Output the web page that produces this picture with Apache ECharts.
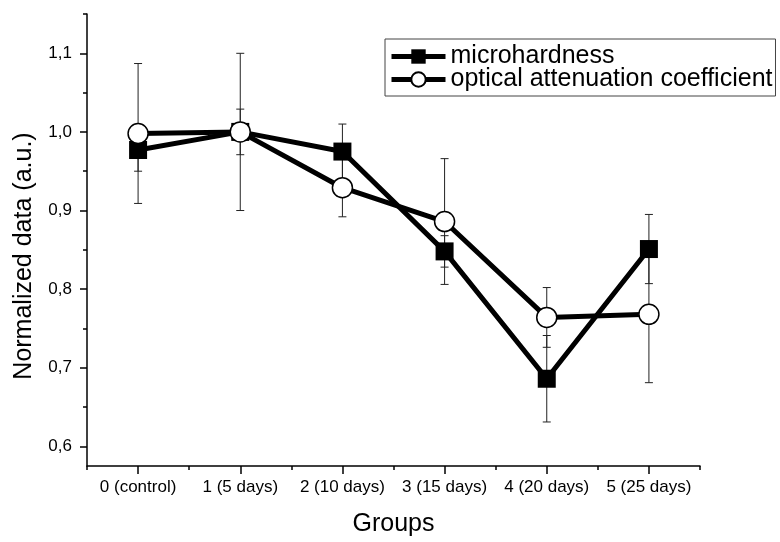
<!DOCTYPE html>
<html>
<head>
<meta charset="utf-8">
<script src="https://cdn.jsdelivr.net/npm/echarts@6/dist/echarts.min.js"></script>
<style>
html,body{margin:0;padding:0;background:#fff;}
#chart{width:780px;height:542px;}
</style>
</head>
<body>
<div id="chart"></div>
<script>
const categories = ['0 (control)', '1 (5 days)', '2 (10 days)', '3 (15 days)', '4 (20 days)', '5 (25 days)'];
const microhardness = [0.977, 1.000, 0.975, 0.848, 0.686, 0.851];
const microhardnessErr = [0.027, 0.029, 0.035, 0.020, 0.055, 0.044];
const attenuation = [0.998, 1.000, 0.929, 0.886, 0.764, 0.768];
const attenuationErr = [0.089, 0.100, 0.037, 0.080, 0.038, 0.087];
const yTicks = [0.6, 0.7, 0.8, 0.9, 1.0, 1.1];
const yMinorTicks = [0.65, 0.75, 0.85, 0.95, 1.05, 1.15];
const yMin = 0.575;
const yMax = 1.15;

const FONT = '"Liberation Sans", Arial, Helvetica, sans-serif';
const chart = echarts.init(document.getElementById('chart'), null, {renderer: 'canvas'});

function errData(means, errs) {
  return means.map((m, i) => [i, m, errs[i]]);
}
function errRender(params, api) {
  const x = api.value(0), m = api.value(1), e = api.value(2);
  const top = api.coord([x, m + e]);
  const bot = api.coord([x, m - e]);
  const hw = 4;
  const st = {stroke: '#222', lineWidth: 1};
  return {
    type: 'group',
    children: [
      {type: 'line', shape: {x1: top[0], y1: top[1], x2: bot[0], y2: bot[1]}, style: st},
      {type: 'line', shape: {x1: top[0] - hw, y1: top[1], x2: top[0] + hw, y2: top[1]}, style: st},
      {type: 'line', shape: {x1: bot[0] - hw, y1: bot[1], x2: bot[0] + hw, y2: bot[1]}, style: st}
    ]
  };
}

const option = {
  animation: false,
  backgroundColor: '#fff',
  textStyle: {fontFamily: FONT, color: '#000'},
  grid: {left: 87, right: 80, top: 14, bottom: 75},
  legend: {
    orient: 'vertical',
    left: 385,
    top: 39,
    padding: [5, 3, 4, 4],
    borderColor: '#444',
    borderWidth: 1,
    itemWidth: 54,
    itemHeight: 18,
    itemGap: -2,
    lineStyle: {width: 5, color: '#000'},
    textStyle: {fontSize: 25, lineHeight: 22, color: '#000', fontFamily: FONT},
    data: ['microhardness', 'optical attenuation coefficient']
  },
  graphic: [{
    type: 'text',
    x: 24,
    y: 256,
    rotation: Math.PI / 2,
    style: {
      text: 'Normalized data (a.u.)',
      font: '25px ' + FONT,
      fill: '#000',
      textAlign: 'center',
      textVerticalAlign: 'middle'
    }
  }],
  xAxis: [{
    type: 'category',
    data: categories,
    boundaryGap: true,
    position: 'bottom',
    axisLine: {show: true, lineStyle: {color: '#000', width: 1.5}},
    axisTick: {show: true, alignWithLabel: true, length: 8, lineStyle: {color: '#000', width: 1.5}},
    axisLabel: {fontSize: 17, color: '#000', margin: 13, interval: 0, fontFamily: FONT},
    splitLine: {show: false},
    name: 'Groups',
    nameLocation: 'middle',
    nameGap: 46,
    nameTextStyle: {fontSize: 25, color: '#000', fontFamily: FONT}
  }, {
    type: 'category',
    data: categories,
    boundaryGap: true,
    position: 'bottom',
    axisLine: {show: false},
    axisTick: {show: true, alignWithLabel: false, length: 4, lineStyle: {color: '#000', width: 1.5}},
    axisLabel: {show: false},
    splitLine: {show: false}
  }],
  yAxis: [{
    type: 'value',
    min: yMin,
    max: yMax,
    position: 'left',
    axisLine: {show: true, lineStyle: {color: '#000', width: 1.5}},
    axisTick: {show: true, length: 7, customValues: yTicks, lineStyle: {color: '#000', width: 1.5}},
    axisLabel: {
      customValues: yTicks,
      fontSize: 17, color: '#000', margin: 15, fontFamily: FONT,
      formatter: v => v.toFixed(1).replace('.', ',')
    },
    splitLine: {show: false}
  }, {
    type: 'value',
    min: yMin,
    max: yMax,
    position: 'left',
    axisLine: {show: false},
    axisTick: {show: true, length: 4, customValues: yMinorTicks, lineStyle: {color: '#000', width: 1.5}},
    axisLabel: {show: false},
    splitLine: {show: false}
  }],
  series: [
    {
      type: 'custom',
      name: 'errMicro',
      xAxisIndex: 0, yAxisIndex: 0,
      renderItem: errRender,
      data: errData(microhardness, microhardnessErr),
      encode: {x: 0, y: 1},
      z: 1, silent: true
    },
    {
      type: 'custom',
      name: 'errAtt',
      xAxisIndex: 0, yAxisIndex: 0,
      renderItem: errRender,
      data: errData(attenuation, attenuationErr),
      encode: {x: 0, y: 1},
      z: 1, silent: true
    },
    {
      type: 'line',
      name: 'microhardness',
      data: microhardness,
      symbol: 'rect',
      symbolSize: 18,
      itemStyle: {color: '#000'},
      lineStyle: {color: '#000', width: 5},
      z: 2
    },
    {
      type: 'line',
      name: 'optical attenuation coefficient',
      data: attenuation,
      symbol: 'circle',
      symbolSize: 20,
      showAllSymbol: true,
      itemStyle: {color: '#fff', borderColor: '#000', borderWidth: 1.5},
      lineStyle: {color: '#000', width: 5},
      z: 3
    }
  ]
};
chart.setOption(option);
</script>
</body>
</html>
